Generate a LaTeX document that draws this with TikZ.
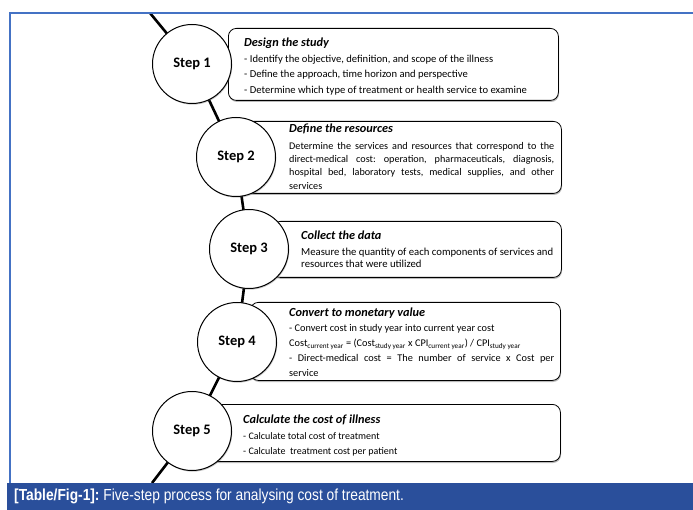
\documentclass[tikz,border=0pt]{standalone}
\usepackage{fontspec}
\setmainfont{Carlito}
\newfontfamily\capfont[FakeStretch=0.86]{Liberation Sans}
\usetikzlibrary{shadows,backgrounds,positioning}
\definecolor{frameblue}{RGB}{68,114,196}
\definecolor{bandblue}{RGB}{42,79,155}
\pgfdeclareradialshading{bevel}{\pgfpoint{0bp}{0bp}}{color(0bp)=(white); color(36bp)=(white); color(50bp)=(black!22)}
\tikzset{
  stepbox/.style={draw, rounded corners=8pt, fill=white, line width=0.8pt, anchor=north west,
    drop shadow={shadow xshift=0.6pt, shadow yshift=-1.6pt, opacity=0.45, fill=black!60}},
  stepcircle/.style={circle, draw, line width=1pt, minimum size=79pt, inner sep=0pt, shading=bevel,
    font=\fontsize{14.5}{16}\selectfont\bfseries,
    drop shadow={shadow xshift=0.8pt, shadow yshift=-1.2pt, opacity=0.35, fill=black!60}},
  boxtext/.style={inner sep=0pt, anchor=north west, align=justify},
}
\newcommand{\btitle}[1]{{\fontsize{12.3}{14}\selectfont\bfseries\itshape #1}}
\frenchspacing
\begin{document}
\begin{tikzpicture}[x=1pt, y=-1pt]
    \useasboundingbox (0,0) rectangle (693,510);
    % frame and caption band
    \draw[frameblue, line width=1.5pt] (10,483) -- (10,13) -- (693,13);
    \fill[bandblue] (7,483) rectangle (693,510);
    \node[anchor=west, text=white, inner sep=0pt, font=\capfont\fontsize{16}{18}\selectfont] (cap) at (14,496.5)
        {\textbf{[Table/Fig-1]:} Five-step process for analysing cost of treatment.};
    % boxes
    \node[stepbox, minimum width=330pt, minimum height=72pt] (b1) at (228,28) {};
    \node[stepbox, minimum width=316pt, minimum height=72pt] (b2) at (245,121) {};
    \node[stepbox, minimum width=289pt, minimum height=56pt] (b3) at (272,221) {};
    \node[stepbox, minimum width=310pt, minimum height=78pt] (b4) at (250,302) {};
    \node[stepbox, minimum width=350pt, minimum height=57pt] (b5) at (210,404) {};
    % box texts
    \node[boxtext, text width=305pt, font=\fontsize{10.6}{15.5}\selectfont] (t1) at ([shift={(16,10)}]b1.north west)
        {\btitle{Design the study}\\
         - Identify the objective, definition, and scope of the illness\\
         - Define the approach, time horizon and perspective\\
         - Determine which type of treatment or health service to examine};
    \node[boxtext, text width=265pt, font=\fontsize{10.2}{13.3}\selectfont] (t2) at ([shift={(44,3)}]b2.north west)
        {\btitle{Define the resources}\\[3pt]
         Determine the services and resources that correspond to the\linebreak
         direct-medical cost: operation, pharmaceuticals, diagnosis,\linebreak
         hospital bed, laboratory tests, medical supplies, and other\linebreak
         services};
    \node[boxtext, text width=262pt, font=\fontsize{10.7}{12.3}\selectfont] (t3) at ([shift={(29,10)}]b3.north west)
        {\btitle{Collect the data}\\[3.3pt]
         Measure the quantity of each components of services and\\
         resources that were utilized};
    \node[boxtext, text width=265pt, font=\fontsize{10.3}{15}\selectfont] (t4) at ([shift={(39,6)}]b4.north west)
        {\btitle{Convert to monetary value}\\
         - Convert cost in study year into current year cost\\
         Cost\textsubscript{current year} = (Cost\textsubscript{study year} x CPI\textsubscript{current year}) / CPI\textsubscript{study year}\\
         - Direct-medical cost = The number of service x Cost per\linebreak
         service};
    \node[boxtext, text width=305pt, font=\fontsize{10}{15.5}\selectfont] (t5) at ([shift={(33,11)}]b5.north west)
        {\btitle{Calculate the cost of illness}\\
         - Calculate total cost of treatment\\
         - Calculate\hspace{4.5pt}treatment cost per patient};
    % step circles
    \node[stepcircle] (s1) at (192,64) {Step 1};
    \node[stepcircle] (s2) at (236,157) {Step 2};
    \node[stepcircle] (s3) at (249,249) {Step 3};
    \node[stepcircle] (s4) at (237,342) {Step 4};
    \node[stepcircle] (s5) at (192,431) {Step 5};
    % path through the steps
    \coordinate (top) at (150,13);
    \coordinate (bottom) at (152,483);
    \begin{scope}[on background layer]
        \fill[white] (0,0) rectangle (693,510);
        \draw[line width=2.6pt] (top) -- (s1.center) -- (s2.center) -- (s3.center)
            -- (s4.center) -- (s5.center) -- (bottom);
    \end{scope}
\end{tikzpicture}
\end{document}
